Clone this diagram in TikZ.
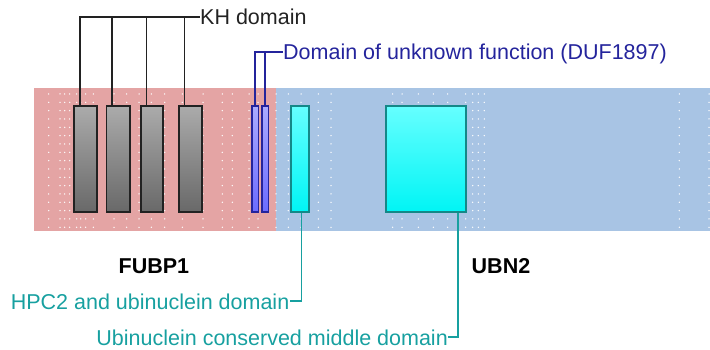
\documentclass[tikz,border=0pt]{standalone}
\usepackage{fontspec}
\setmainfont{Liberation Sans}
\usepackage{xcolor}
\usepackage{tikz}
\usetikzlibrary{positioning}
\definecolor{fubpink}{HTML}{E4A4A4}
\definecolor{ubnblue}{HTML}{A8C4E4}
\definecolor{khdark}{HTML}{222222}
\definecolor{dufblue}{HTML}{24249C}
\definecolor{ubnteal}{HTML}{17A0A0}

\begin{document}
\begin{tikzpicture}[
  x=1pt, y=-1pt, font=\fontsize{21.5}{25}\selectfont,
  band/.style={anchor=north west, inner sep=0pt, minimum height=142.7},
  dom/.style={line width=1.6pt, minimum height=105.8, inner sep=0pt},
  khbox/.style={dom, draw=khdark, top color=black!33, bottom color=black!59},
  dufbox/.style={dom, draw=dufblue, top color=blue!33, bottom color=blue!58},
  ubnbox/.style={dom, draw=ubnteal!85!black, top color=cyan!60, bottom color=cyan!92!teal},
  lab/.style={inner sep=0pt, text height=16pt, text depth=0pt},
  khline/.style={line width=1.8pt, draw=khdark},
  dufline/.style={line width=1.8pt, draw=dufblue},
  ubnline/.style={line width=1.8pt, draw=ubnteal},
  gene/.style={font=\fontsize{21.5}{25}\selectfont\bfseries, inner sep=0pt, anchor=base west}
]
\useasboundingbox (0,0) rectangle (710,350);

% protein bands
\node[band, fill=fubpink, minimum width=242] (fubp) at (34,88) {};
\node[band, fill=ubnblue, minimum width=434] (ubn)  at (276,88) {};

% residue dots
\foreach \dx in {48.7,60,64.7,69.7,76.7,80.7,85.7,93.3,114,126.7,139,151.3,164.7,182.3,203,222.3,232.3,249,258,
                 276,288.3,301,318.3,331,392.7,402,418.3,433.3,447.7,465.7,472.7,478.3,484.3,679.3,709}
  \foreach \k in {0,...,16}
    \fill[white] (\dx,94+8.33*\k) circle (0.75);

% FUBP1 domains
\node[khbox, minimum width=23]   (kh1) at (85.65,159) {};
\node[khbox, minimum width=23.7] (kh2) at (118.35,159) {};
\node[khbox, minimum width=22]   (kh3) at (151.85,159) {};
\node[khbox, minimum width=23.4] (kh4) at (190.5,159) {};
\node[dufbox, minimum width=6.7] (duf1) at (255.15,159) {};
\node[dufbox, minimum width=6.4] (duf2) at (265.3,159) {};

% UBN2 domains
\node[ubnbox, minimum width=17.8] (hpc) at (300,159) {};
\node[ubnbox, minimum width=79.8] (ucm) at (426,159) {};

% labels
\node[lab, anchor=west, text=khdark]  (khlab)  at (200,16.7) {KH domain};
\node[lab, anchor=west, text=dufblue] (duflab) at (283,51.7) {Domain of unknown function (DUF1897)};
\node[lab, anchor=east, text=ubnteal] (hpclab) at (289.5,301) {HPC2 and ubinuclein domain};
\node[lab, anchor=east, text=ubnteal] (ucmlab) at (448,337.3) {Ubinuclein conserved middle domain};
\node[gene] (fubplab) at (118.5,273.3) {FUBP1};
\node[gene] (ubnlab)  at (471.5,273.3) {UBN2};

% connectors
\foreach \b in {kh1,kh2,kh3,kh4}
  \draw[khline] ([xshift=6.5]\b.north west) |- (khlab.west);
\draw[dufline] (duf1.north) |- (duflab.west);
\draw[dufline] (duf2.north) |- (duflab.west);
\draw[ubnline] ([xshift=11.2]hpc.south west) |- (hpclab.east);
\draw[ubnline] ([xshift=72.9]ucm.south west) |- (ucmlab.east);
\end{tikzpicture}
\end{document}
